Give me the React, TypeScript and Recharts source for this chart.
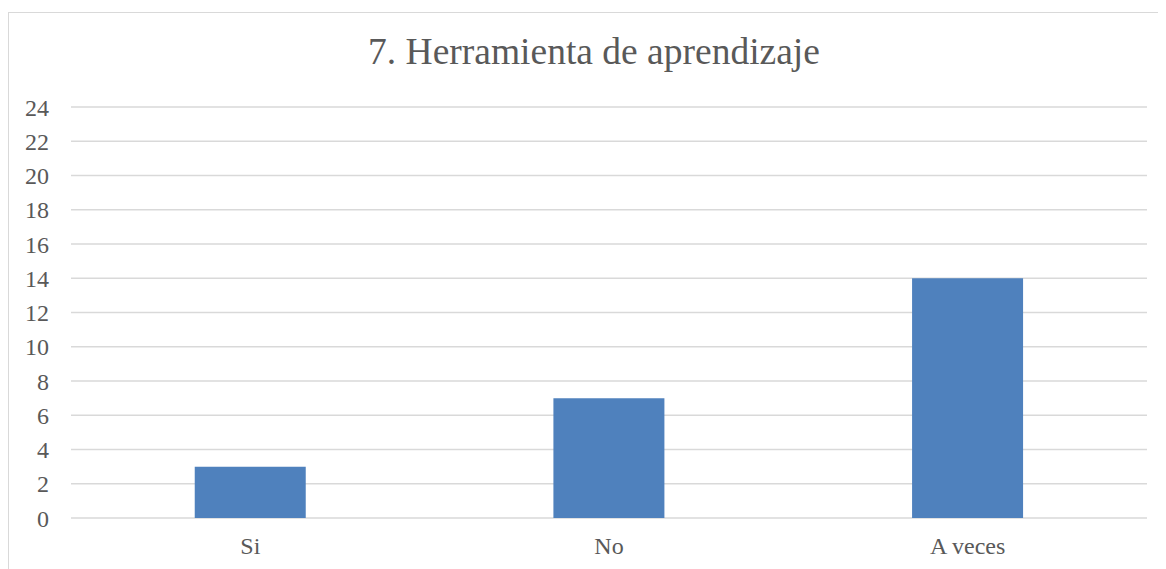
import React from "react";
import { BarChart, Bar, XAxis, YAxis, CartesianGrid } from "recharts";

const categories = ["Si", "No", "A veces"];
const counts = [3, 7, 14];
const yTicks = [0, 2, 4, 6, 8, 10, 12, 14, 16, 18, 20, 22, 24];

const data = categories.map((name, i) => ({ name, value: counts[i] }));

const font = "Liberation Serif, Times New Roman, serif";

export default function App() {
  return (
    <div
      style={{
        position: "relative",
        marginTop: 4,
        width: 1158,
        height: 557,
        borderLeft: "1px solid #d9d9d9",
        borderTop: "1px solid #d9d9d9",
        boxSizing: "border-box",
        overflow: "hidden",
        fontFamily: font,
      }}
    >
      <div
        style={{
          position: "absolute",
          left: 0,
          top: 19,
          width: 1170,
          textAlign: "center",
          fontFamily: font,
          fontSize: 37.5,
          lineHeight: "40px",
          color: "#595959",
        }}
      >
        7. Herramienta de aprendizaje
      </div>
      <BarChart
        width={1149}
        height={556}
        data={data}
        margin={{ top: 94, right: 11, left: 0, bottom: 21 }}
        barCategoryGap="34.5%"
        style={{ fontFamily: font }}
      >
        <CartesianGrid vertical={false} stroke="#d9d9d9" strokeWidth={1.5} />
        <XAxis
          dataKey="name"
          axisLine={false}
          tickLine={false}
          height={30}
          tickMargin={13}
          tick={{ fill: "#595959", fontSize: 24, fontFamily: font }}
        />
        <YAxis
          width={62}
          domain={[0, 24]}
          ticks={yTicks}
          interval={0}
          axisLine={false}
          tickLine={false}
          tickMargin={16}
          tick={{ fill: "#595959", fontSize: 24, fontFamily: font }}
        />
        <Bar dataKey="value" fill="#4f81bd" isAnimationActive={false} />
      </BarChart>
    </div>
  );
}
